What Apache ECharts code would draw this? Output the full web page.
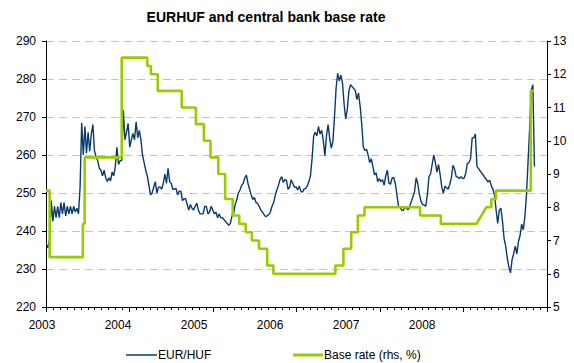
<!DOCTYPE html>
<html><head><meta charset="utf-8">
<script src="https://cdn.jsdelivr.net/npm/echarts@6/dist/echarts.min.js"></script>
<style>html,body{margin:0;padding:0;background:#fff}#c{width:574px;height:363px}</style>
</head><body><div id="c"></div>
<script>
// ---- data ----
const titleText = 'EURHUF and central bank base rate';
const yearLabels = ['2003', '2004', '2005', '2006', '2007', '2008'];
const seriesNames = ['EUR/HUF', 'Base rate (rhs, %)'];

// EUR/HUF, weekly readings starting at this date (null = no data, gap bridged)
const eurhufStart = '2003-01-03';
const eurhufWeekly = [
  236.5, 235.5, 238, 248, 242.5, 246.5, 243.5, 246.5, 243.5, 247.5,
  244.5, 247.5, 244, 246.5, 244.5, 246.5, 244.5, 246.5, 245, 246,
  244.5, 251.5, 268.5, 260, 267.5, 260.5, 266, 261, 265.5, 268,
  261, 259.5, 258.5, 256.5, 256, 254.5, 256, 254, 253, 254,
  253.2, 255.5, 254.5, 257, 262, 257.5, 258.5, 258.6, 271.8, 264,
  266, 268.3, 262.1, 264, 265.7, 264, 268.7, 264.5, 266.5, 264,
  260, 258, 256, 254.5, 252, 249.5, 250, 251.5, 253, 250,
  251.5, 251.6, 251, 252.5, 255, 252.5, 256.5, 253, 252.5, 251,
  251, 251.2, 249.5, 250.5, 250.5, 248, 248.5, 248.5, 247, 245.5,
  247, 246, 245.5, 246.5, 247.3, 245.5, 244.5, 244.5, 244.6, 246.5,
  246.4, 244.5, 245, 246.5, 245.5, 244.5, 245, 243.5, 244.5, 243.5,
  243.5, 243, 242.5, 242, 241.5, 242, 244, 244.5, 247, 248.2,
  250, 250.8, 252, 252.5, 254, 254.7, 252.5, 251, 249.5, 248.3,
  248.8, 247.5, 247.3, 246.5, 245.5, 245, 244.3, 243.8, 244, 244.3,
  245, 246.5, 247.5, 249.3, 250.8, 252, 253.5, 254.3, 252.8, 253.5,
  253.4, 251, 251.5, 253.5, 252.5, 251.5, 251.6, 250.8, 251.8, 250.5,
  250.2, 251, 251.2, 251.8, 253, 254.5, 259, 265, 266, 265,
  267.5, 265.5, 266.5, 263.9, 259.8, 265, 268, 264.5, 261.8, 263.5,
  270, 277.5, 281.5, 279.5, 281, 279, 273.5, 269.5, 272, 276.8,
  278.5, 278, 277.5, 277, 274.6, 276.3, 273, 268.3, 262.1, 261.2,
  261.5, 260, 258, 259, 257, 254.8, 255.3, 253, 253.8, 253,
  253.5, 252, 254.5, 256, 252.6, 252.3, 254, 254, 252.5, 249.5,
  246.5, 246.2, 245.5, 245.4, 246.3, 246, 245.6, 246.6, 247.8, 249,
  250.4, 254, 252.5, 249.7, 247.8, 247, 246.8, 246.5, 249.5, 254.3,
  255, 257.5, 260, 258, 255.5, 257.5, 254.8, 251.6, 249.9, 251.8,
  251.4, 251, 252.3, 254, 257.3, 256.3, 254.3, 254.2, 253.8, 254.3,
  253.8, 253.9, 255.3, 257.8, 258, 259, 264.5, 264.5, 265.5, 257,
  null, null, null, null, null, null,
  252.9, 253.4, 251.8, 251, 249.5, 245.5, 242, 245.5, 246, 242.5,
  238, 236, 232.8, 230.5, 229, 232.5, 234, 236, 234, 237.3,
  238.8, 241.8, 240.3, 243.7, 249.5, 258.3, 267, 277, 278.5, 257
];

// Base rate path vertices (date, %)
const rateDates = [
  '2003-01-01', '2003-01-17', '2003-01-17', '2003-06-11', '2003-06-11', '2003-06-19', '2003-06-19',
  '2003-11-28', '2003-11-28', '2004-03-19', '2004-03-19', '2004-04-04', '2004-04-04',
  '2004-05-04', '2004-05-04', '2004-08-17', '2004-08-17', '2004-10-18', '2004-10-18',
  '2004-11-22', '2004-11-22', '2004-12-21', '2004-12-21', '2005-01-24', '2005-01-24',
  '2005-02-23', '2005-02-23', '2005-03-28', '2005-03-28', '2005-04-26', '2005-04-26',
  '2005-05-24', '2005-05-24', '2005-06-20', '2005-06-20', '2005-07-21', '2005-07-21',
  '2005-08-26', '2005-08-26', '2005-09-22', '2005-09-22', '2006-06-20', '2006-06-20',
  '2006-07-25', '2006-07-25', '2006-08-28', '2006-08-28', '2006-09-26', '2006-09-26',
  '2006-10-25', '2006-10-25', '2007-06-25', '2007-06-25', '2007-09-24', '2007-09-24',
  '2008-02-27', '2008-04-10', '2008-05-02', '2008-05-02', '2008-05-22', '2008-05-22',
  '2008-10-22', '2008-10-22', '2008-11-05'
];
const rateValues = [
  8.5, 8.5, 6.5, 6.5, 7.5, 7.5, 9.5,
  9.5, 12.5, 12.5, 12.25, 12.25, 12.0,
  12.0, 11.5, 11.5, 11.0, 11.0, 10.5,
  10.5, 10.0, 10.0, 9.5, 9.5, 9.0,
  9.0, 8.25, 8.25, 7.75, 7.75, 7.5,
  7.5, 7.25, 7.25, 7.0, 7.0, 6.75,
  6.75, 6.25, 6.25, 6.0, 6.0, 6.25,
  6.25, 6.75, 6.75, 7.25, 7.25, 7.75,
  7.75, 8.0, 8.0, 7.75, 7.75, 7.5,
  7.5, 8.0, 8.0, 8.25, 8.25, 8.5,
  8.5, 11.5, 11.5
];

// ---- helpers ----
function decYear(s) {
  const p = s.split('-').map(Number);
  const t = Date.UTC(p[0], p[1] - 1, p[2]);
  const a = Date.UTC(p[0], 0, 1), b = Date.UTC(p[0] + 1, 0, 1);
  return p[0] + (t - a) / (b - a);
}
function addDays(s, n) {
  const p = s.split('-').map(Number);
  return new Date(Date.UTC(p[0], p[1] - 1, p[2] + n)).toISOString().slice(0, 10);
}
const eurhufData = eurhufWeekly.map((v, i) => [decYear(addDays(eurhufStart, 7 * i)), v]);
const rateData = rateDates.map((d, i) => [decYear(d), rateValues[i]]);

const FONT = 'Liberation Sans, Arial, sans-serif';
const BLUE = '#0a3a6c';
const GREEN = '#99cc00';
const txt = { fontFamily: FONT, fontSize: 12, color: '#000' };

const chart = echarts.init(document.getElementById('c'), null, { renderer: 'svg' });
chart.setOption({
  animation: false,
  backgroundColor: '#fff',
  title: {
    text: titleText, left: 266, top: 10, padding: 0, textAlign: 'center',
    textStyle: { fontFamily: FONT, fontSize: 14, fontWeight: 'bold', color: '#000' }
  },
  grid: { left: 46, right: 27, top: 41, bottom: 56 },
  xAxis: [
    {
      type: 'value', min: 2003, max: 2009, interval: 1, position: 'bottom',
      axisLine: { onZero: false, lineStyle: { color: '#000', width: 1 } },
      axisTick: { length: 5, lineStyle: { color: '#000' } },
      minorTick: { show: true, splitNumber: 12, length: 3, lineStyle: { color: '#000' } },
      axisLabel: { show: false }, splitLine: { show: false }
    },
    {
      type: 'value', min: 0, max: 6.59, interval: 1, position: 'bottom',
      axisLine: { show: false, onZero: false }, axisTick: { show: false }, splitLine: { show: false },
      axisLabel: Object.assign({ margin: 12, padding: [0, 8, 0, 0],
        formatter: v => (v >= 0 && v < yearLabels.length ? yearLabels[v] : '') }, txt)
    }
  ],
  yAxis: [
    {
      type: 'value', min: 220, max: 290, interval: 10, position: 'left',
      axisLine: { show: true, onZero: false, lineStyle: { color: '#000' } },
      axisTick: { show: true, length: 4, lineStyle: { color: '#000' } },
      axisLabel: Object.assign({ margin: 10 }, txt),
      splitLine: { show: true, lineStyle: { color: '#c4c4c4', type: [8, 5], width: 1 } }
    },
    {
      type: 'value', min: 5, max: 13, interval: 1, position: 'right',
      axisLine: { show: true, onZero: false, lineStyle: { color: '#000' } },
      axisTick: { show: true, length: 4, lineStyle: { color: '#000' } },
      axisLabel: Object.assign({ margin: 6 }, txt),
      splitLine: { show: false }
    }
  ],
  legend: [
    { data: [{ name: seriesNames[0], icon: 'rect' }], left: 126, top: 349, itemWidth: 31, itemHeight: 1.5, padding: 0,
      textStyle: Object.assign({ padding: [0, 0, 0, -4] }, txt) },
    { data: [{ name: seriesNames[1], icon: 'rect' }], left: 293, top: 349, itemWidth: 30, itemHeight: 3, padding: 0,
      textStyle: Object.assign({ padding: [0, 0, 0, -4] }, txt) }
  ],
  series: [
    {
      name: seriesNames[0], type: 'line', xAxisIndex: 0, yAxisIndex: 0, data: eurhufData,
      symbol: 'none', showSymbol: false, connectNulls: true, z: 2,
      lineStyle: { color: BLUE, width: 1.4 }, itemStyle: { color: BLUE }
    },
    {
      name: seriesNames[1], type: 'line', xAxisIndex: 0, yAxisIndex: 1, data: rateData,
      symbol: 'none', showSymbol: false, z: 3,
      lineStyle: { color: GREEN, width: 2.6 }, itemStyle: { color: GREEN }
    }
  ]
});
</script>
</body></html>
